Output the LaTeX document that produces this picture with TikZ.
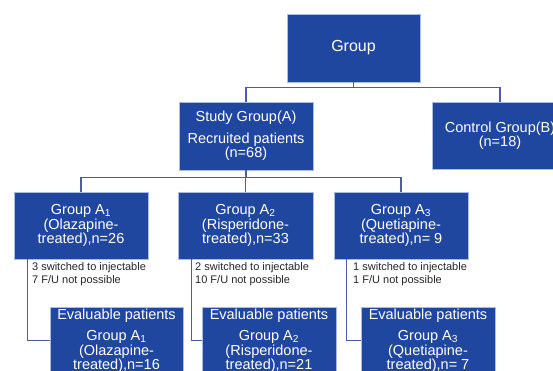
\documentclass[tikz,border=0pt]{standalone}
\usepackage{fontspec}
\setmainfont{Liberation Sans}
\definecolor{boxblue}{HTML}{2047A0}
\definecolor{boxedge}{HTML}{A8BCE4}
\definecolor{linkblue}{HTML}{4B5DA6}
\definecolor{notegray}{HTML}{262626}
\tikzset{
  gbox/.style={draw=boxedge, line width=0.8pt, fill=boxblue, text=white, align=center,
    inner sep=0pt, font=\fontsize{14.5}{14.5}\selectfont},
  link/.style={draw=linkblue, line width=1.5pt},
  note/.style={anchor=west, align=left, inner sep=0pt, text=notegray,
    font=\fontsize{11}{13}\selectfont}
}
\begin{document}
\begin{tikzpicture}[x=1pt,y=-1pt]
\useasboundingbox (0,0) rectangle (553,370);
\clip (0,0) rectangle (553,370);
% top level
\node[gbox, minimum width=133pt, minimum height=68pt, font=\fontsize{16}{16}\selectfont] (group) at (353.5,48) {Group};
\node[gbox, minimum width=134pt, minimum height=68pt] (study) at (246,136) {Study Group(A)\\[7pt]Recruited patients\\(n=68)};
\node[gbox, minimum width=136pt, minimum height=67pt] (control) at (500,135.5) {Control Group(B)\\(n=18)};
% second level
\node[gbox, minimum width=134pt, minimum height=67pt] (a1) at (81,225.5) {Group A\textsubscript{1}\\(Olazapine-\\treated),n=26};
\node[gbox, minimum width=135pt, minimum height=67pt] (a2) at (245.5,225.5) {Group A\textsubscript{2}\\(Risperidone-\\treated),n=33};
\node[gbox, minimum width=134pt, minimum height=67pt] (a3) at (401,225.5) {Group A\textsubscript{3}\\(Quetiapine-\\treated),n= 9};
% notes
\node[note] (n1) at (32,274.5) {3 switched to injectable\\7 F/U not possible};
\node[note] (n2) at (195,274.5) {2 switched to injectable\\10 F/U not possible};
\node[note] (n3) at (353,274.5) {1 switched to injectable\\1 F/U not possible};
% evaluable
\node[gbox, minimum width=133pt, minimum height=67pt] (e1) at (116.5,340.5) {Evaluable patients\\[7pt]Group A\textsubscript{1}\\(Olazapine-\\treated),n=16};
\node[gbox, minimum width=134pt, minimum height=67pt] (e2) at (269,340.5) {Evaluable patients\\[7pt]Group A\textsubscript{2}\\(Risperidone-\\treated),n=21};
\node[gbox, minimum width=134pt, minimum height=67pt] (e3) at (428,340.5) {Evaluable patients\\[7pt]Group A\textsubscript{3}\\(Quetiapine-\\treated),n= 7};
% connectors
\draw[link] (group.south) -- ++(0,5) coordinate (gj);
\draw[link] (gj) -| (study.north);
\draw[link] (gj) -| (control.north);
\draw[link] (study.south) -- ++(0,7) coordinate (sj);
\draw[link] (sj) -| (a1.north);
\draw[link] (sj) -- (a2.north |- sj) -- (a2.north);
\draw[link] (sj) -| (a3.north);
\draw[link] ([xshift=14pt]a1.south west) |- (e1.west);
\draw[link] ([xshift=14pt]a2.south west) |- (e2.west);
\draw[link] ([xshift=13pt]a3.south west) |- (e3.west);
\end{tikzpicture}
\end{document}
